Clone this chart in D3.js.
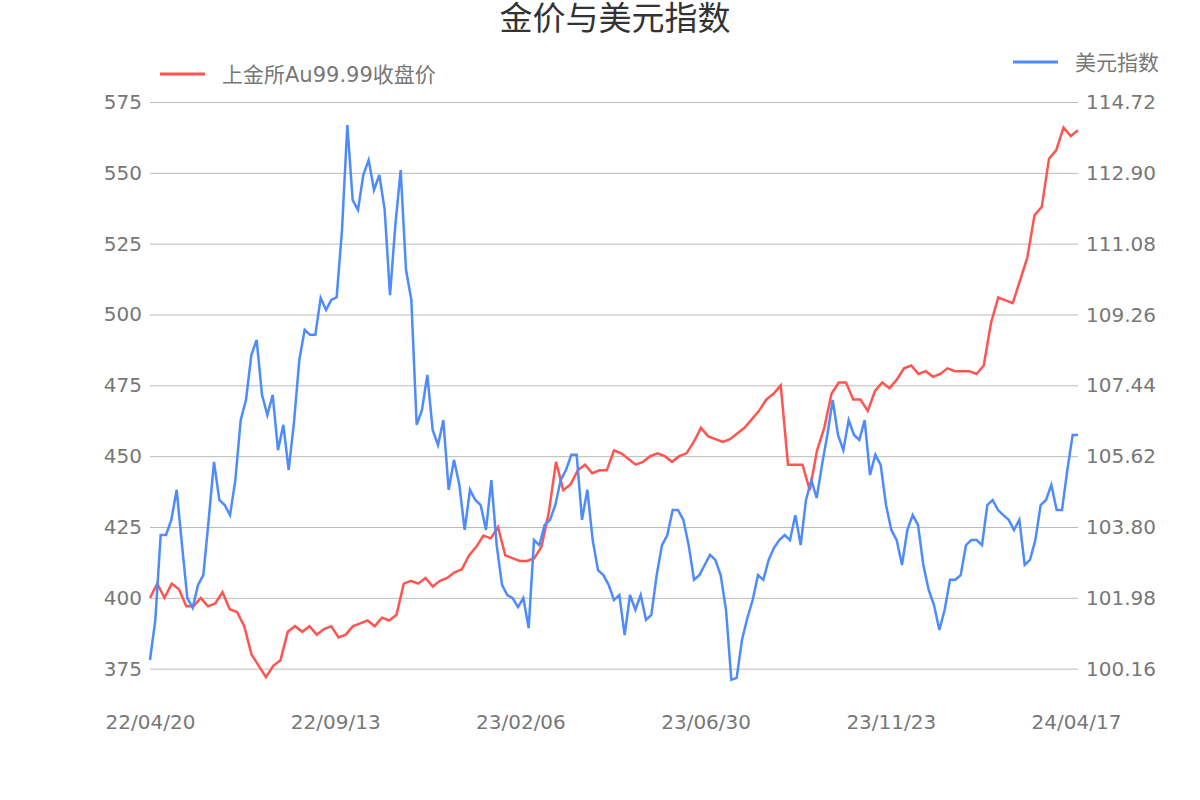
<!DOCTYPE html>
<html><head><meta charset="utf-8">
<script src="https://cdn.jsdelivr.net/npm/d3@7"></script>
<style>body{margin:0;background:#fff;font-family:"DejaVu Sans","Noto Sans CJK SC",sans-serif}</style>
</head><body><svg id="c" width="1200" height="800"></svg>
<script>
const dateLabels = ['22/04/20','22/09/13','23/02/06','23/06/30','23/11/23','24/04/17'];
const leftTicks = [375,400,425,450,475,500,525,550,575];
const rightTicks = ['100.16','101.98','103.80','105.62','107.44','109.26','111.08','112.90','114.72'];

const gold = [400,405,400,405,403,397,397,400,397,398,402,396,395,390,380,376,372,376,378,388,390,388,390,387,389,390,386,387,390,391,392,390,393,392,394,405,406,405,407,404,406,407,409,410,415,418,422,421,425,415,414,413,413,414,418,430,448,438,440,445,447,444,445,445,452,451,449,447,448,450,451,450,448,450,451,455,460,457,456,455,456,458,460,463,466,470,472,475,447,447,447,438,452,460,472,476,476,470,470,466,473,476,474,477,481,482,479,480,478,479,481,480,480,480,479,482,497,506,505,504,512,520,535,538,555,558,566,563,565];

const usd = [100.39,101.42,103.60,103.60,103.99,104.76,103.34,101.98,101.73,102.32,102.57,103.99,105.48,104.50,104.37,104.11,105.01,106.55,107.07,108.22,108.61,107.20,106.68,107.20,105.78,106.43,105.27,106.50,108.10,108.87,108.74,108.74,109.69,109.38,109.64,109.71,111.43,114.13,112.20,111.95,112.85,113.23,112.46,112.85,111.95,109.76,111.56,112.97,110.41,109.64,106.43,106.81,107.71,106.30,105.91,106.55,104.76,105.53,104.89,103.73,104.76,104.50,104.37,103.73,105.01,103.34,102.32,102.06,101.98,101.75,101.98,101.21,103.47,103.34,103.86,103.99,104.37,105.01,105.27,105.66,105.66,103.99,104.76,103.47,102.70,102.57,102.32,101.93,102.06,101.03,102.06,101.68,102.06,101.42,101.55,102.57,103.34,103.60,104.24,104.24,103.99,103.34,102.45,102.57,102.83,103.09,102.96,102.57,101.68,99.88,99.93,100.91,101.47,101.93,102.57,102.45,102.96,103.27,103.47,103.60,103.47,104.11,103.34,104.50,105.01,104.55,105.40,106.17,107.07,106.17,105.78,106.55,106.17,106.04,106.55,105.14,105.66,105.40,104.37,103.73,103.47,102.83,103.73,104.11,103.86,102.83,102.19,101.80,101.16,101.68,102.45,102.45,102.57,103.34,103.47,103.47,103.34,104.37,104.50,104.24,104.11,103.99,103.73,103.99,102.83,102.96,103.47,104.37,104.50,104.89,104.24,104.24,105.27,106.17,106.17];

const svg = d3.select('#c');
const x0 = 150, x1 = 1078, yTop = 102, yBot = 697;
const yL = d3.scaleLinear().domain([365,575]).range([yBot,yTop]);
const yR = d3.scaleLinear().domain([99.44,114.72]).range([yBot,yTop]);
const xG = d3.scaleLinear().domain([0,gold.length-1]).range([x0,x1]);
const xU = d3.scaleLinear().domain([0,usd.length-1]).range([x0,x1]);
const xLab = d3.scalePoint().domain(dateLabels).range([x0,1076]);

// grid + left axis
const gl = svg.append('g').attr('transform',`translate(${x0},0)`)
  .call(d3.axisLeft(yL).tickValues(leftTicks).tickSize(-(x1-x0)).tickPadding(8));
gl.select('.domain').remove();
gl.selectAll('line').attr('stroke','#bbb');
gl.selectAll('text').attr('fill','#777').style('font-family','DejaVu Sans').style('font-size','20px');

const gr = svg.append('g').attr('transform',`translate(${x1},0)`)
  .call(d3.axisRight(yR).tickValues(rightTicks.map(Number)).tickFormat((d,i)=>rightTicks[i]).tickSize(0).tickPadding(8));
gr.select('.domain').remove();
gr.selectAll('text').attr('fill','#777').style('font-family','DejaVu Sans').style('font-size','20px');

const gx = svg.append('g').attr('transform','translate(0,712)')
  .call(d3.axisBottom(xLab).tickSize(0));
gx.select('.domain').remove();
gx.selectAll('text').attr('fill','#777').style('font-family','DejaVu Sans').style('font-size','20px');

svg.append('path').datum(gold).attr('fill','none').attr('stroke','#ff5450').attr('stroke-width',2.5)
  .attr('d',d3.line().x((d,i)=>xG(i)).y(d=>yL(d)));
svg.append('path').datum(usd).attr('fill','none').attr('stroke','#4d8bff').attr('stroke-width',2.5)
  .attr('d',d3.line().x((d,i)=>xU(i)).y(d=>yR(d)));

svg.append('text').attr('x',615).attr('y',30).attr('text-anchor','middle')
  .attr('fill','#333').style('font-size','33px').text('金价与美元指数');
svg.append('line').attr('x1',160).attr('x2',205).attr('y1',74).attr('y2',74).attr('stroke','#ff5450').attr('stroke-width',3);
svg.append('text').attr('x',222).attr('y',82).attr('fill','#777').style('font-size','21px').text('上金所Au99.99收盘价');
svg.append('line').attr('x1',1013).attr('x2',1058).attr('y1',62).attr('y2',62).attr('stroke','#4d8bff').attr('stroke-width',3);
svg.append('text').attr('x',1075).attr('y',70).attr('fill','#777').style('font-size','21px').text('美元指数');
</script></body></html>
